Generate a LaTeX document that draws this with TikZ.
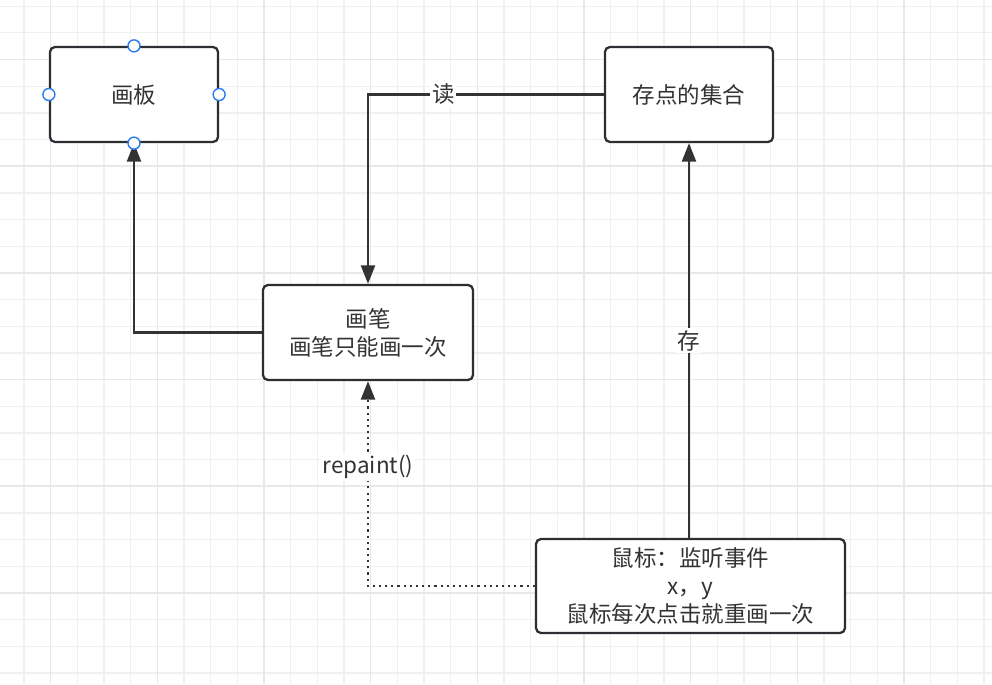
\documentclass[tikz,border=0pt]{standalone}
\usepackage{fontspec}
\newfontfamily\cjk{Noto Sans CJK SC}
\usepackage{tikz}
\usetikzlibrary{arrows.meta, positioning}

\definecolor{boxline}{HTML}{2B2F33}
\definecolor{ink}{HTML}{333333}
\definecolor{gridminor}{HTML}{F0F0F0}
\definecolor{gridmajor}{HTML}{E8E8E8}
\definecolor{handle}{HTML}{2A7BF0}

\begin{document}
\begin{tikzpicture}[
  x=0.02cm, y=-0.02cm,
  >={Triangle[length=0.37cm, width=0.28cm]},
  box/.style={draw=boxline, line width=1.3pt, rounded corners=2.8pt, fill=white,
    inner sep=0pt, minimum height=1.9cm, align=center, text=ink,
    font=\cjk\fontsize{12.8}{16}\selectfont},
  link/.style={draw=ink, line width=1.25pt},
  linklabel/.style={fill=white, inner sep=1pt, text=ink, font=\cjk\fontsize{12.8}{15}\selectfont},
]

% --- Canvas and grid ---
\useasboundingbox (0,0) rectangle (992,684);
\fill[white] (0,0) rectangle (992,684);
\foreach \k in {0,...,36}
  \draw[gridminor, line width=0.6pt] ({24+26.667*\k},0) -- ++(0,684);
\foreach \k in {0,...,25}
  \draw[gridminor, line width=0.6pt] (0,{6.3+26.667*\k}) -- ++(992,0);
\foreach \k in {0,...,8}
  \draw[gridmajor, line width=0.9pt] ({50.7+106.667*\k},0) -- ++(0,684);
\foreach \k in {0,...,5}
  \draw[gridmajor, line width=0.9pt] (0,{59.6+106.667*\k}) -- ++(992,0);

% --- Boxes ---
\node[box, minimum width=3.36cm] (board) at (134,94.5) {画板};
\node[box, minimum width=3.36cm] (pointset) at (689,94.5) {存点的集合};
\node[box, minimum width=4.2cm] (pen) at (368,332.5) {画笔\\画笔只能画一次};
\node[box, minimum width=6.18cm, minimum height=1.88cm] (mouse) at (690.5,586) {鼠标：监听事件\\x，y\\鼠标每次点击就重画一次};

% --- Connectors ---
\draw[link, ->] (pen.west) -| (board.south);
\draw[link, ->] (pointset.west) -| (pen.north)
  node[linklabel, pos=0.34] {读};
\draw[link, ->] (pointset.south |- mouse.north) -- (pointset.south)
  node[linklabel, midway] {存};
\draw[link, ->, dash pattern=on 1.2pt off 2.3pt] (mouse.west) -| (pen.south)
  node[linklabel, pos=0.79] {repaint()};

% --- Selection handles ---
\foreach \a in {north, south, east, west}
  \draw[handle, fill=white, line width=0.8pt] (board.\a) circle (6);

\end{tikzpicture}
\end{document}
